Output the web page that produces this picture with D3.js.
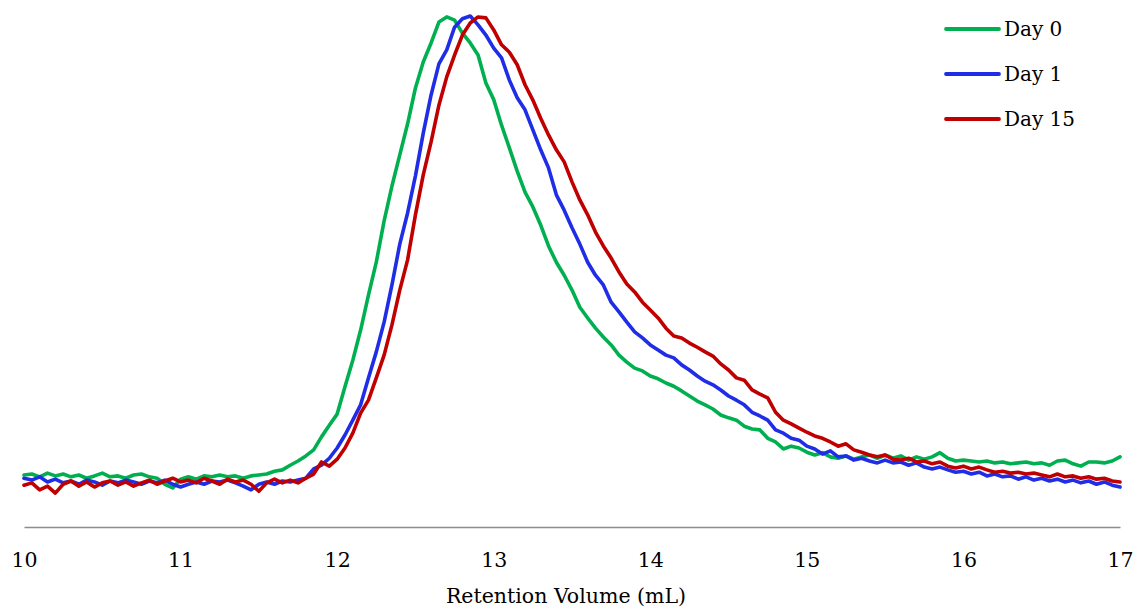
<!DOCTYPE html>
<html>
<head>
<meta charset="utf-8">
<script src="https://cdn.jsdelivr.net/npm/d3@7"></script>
<style>
  html, body { margin: 0; padding: 0; background: #ffffff; }
  svg { display: block; }
</style>
</head>
<body>
<svg id="chart" width="1136" height="608"></svg>
<script>
// Retention volume grid (mL)
const volumes = [
  10.00,10.05,10.10,10.15,10.20,10.25,10.30,10.35,10.40,10.45,
  10.50,10.55,10.60,10.65,10.70,10.75,10.80,10.85,10.90,10.95,
  11.00,11.05,11.10,11.15,11.20,11.25,11.30,11.35,11.40,11.45,
  11.50,11.55,11.60,11.65,11.70,11.75,11.80,11.85,11.90,11.95,
  12.00,12.05,12.10,12.15,12.20,12.25,12.30,12.35,12.40,12.45,
  12.50,12.55,12.60,12.65,12.70,12.75,12.80,12.85,12.90,12.95,
  13.00,13.05,13.10,13.15,13.20,13.25,13.30,13.35,13.40,13.45,
  13.50,13.55,13.60,13.65,13.70,13.75,13.80,13.85,13.90,13.95,
  14.00,14.05,14.10,14.15,14.20,14.25,14.30,14.35,14.40,14.45,
  14.50,14.55,14.60,14.65,14.70,14.75,14.80,14.85,14.90,14.95,
  15.00,15.05,15.10,15.15,15.20,15.25,15.30,15.35,15.40,15.45,
  15.50,15.55,15.60,15.65,15.70,15.75,15.80,15.85,15.90,15.95,
  16.00,16.05,16.10,16.15,16.20,16.25,16.30,16.35,16.40,16.45,
  16.50,16.55,16.60,16.65,16.70,16.75,16.80,16.85,16.90,16.95,
  17.00
];

// Normalised detector signal (%)
const day0 = [
  1.2,1.4,0.8,1.6,1.0,1.4,0.8,1.2,0.5,1.0,
  1.6,0.8,1.0,0.5,1.2,1.4,0.8,0.5,-0.8,-1.6,
  0.3,0.8,0.3,1.0,0.8,1.2,0.8,1.0,0.5,1.0,
  1.2,1.4,2.0,2.3,3.3,4.2,5.3,6.6,9.4,11.9,
  14.3,20.2,25.9,32.4,39.9,47.0,55.9,63.4,70.1,76.8,
  84.5,90.1,94.2,98.7,99.8,99.1,96.3,94.2,91.6,85.6,
  82.0,76.5,71.6,66.6,62.1,58.9,55.0,50.5,47.0,44.2,
  41.0,37.3,35.0,32.8,30.9,29.2,27.0,25.5,24.2,23.6,
  22.5,21.9,21.0,20.3,19.3,18.2,17.1,16.3,15.4,14.1,
  13.5,13.0,11.7,11.1,10.9,9.1,8.3,6.8,7.4,7.0,
  6.1,5.5,6.0,5.1,4.8,5.3,4.6,5.1,5.5,4.8,
  5.5,4.8,5.3,4.4,5.1,4.6,5.1,6.0,4.8,4.2,
  4.4,4.2,4.0,4.2,3.8,4.0,3.6,3.8,4.0,3.6,
  3.8,3.3,4.2,4.4,3.6,3.1,4.0,4.0,3.8,4.2,
  5.1
];

const day1 = [
  0.5,0.1,0.8,-0.3,0.3,-0.5,-0.1,-0.8,0.1,-0.3,
  -1.0,-0.1,-0.5,0.1,-0.3,-0.8,-0.1,-0.5,0.1,-0.8,
  -1.4,-0.8,-0.3,-0.8,-0.1,-0.3,0.1,-0.5,-1.2,-2.0,
  -0.8,-0.3,-0.8,-0.1,-0.3,0.1,0.5,2.5,3.3,4.8,
  7.0,9.8,13.0,16.3,22.1,27.7,34.1,42.1,50.9,57.6,
  65.6,74.8,83.0,89.7,92.7,97.6,99.4,100.0,98.1,95.9,
  93.1,91.0,86.2,82.4,79.8,75.5,71.2,67.3,61.5,58.2,
  54.4,50.9,47.0,44.2,42.1,38.4,36.3,34.1,32.0,30.7,
  29.2,28.1,27.0,26.4,24.9,23.8,22.5,21.4,20.6,19.5,
  18.2,17.3,16.3,14.7,13.9,13.0,10.9,10.2,9.1,8.7,
  7.4,6.8,5.7,6.4,5.1,5.3,4.4,4.8,4.2,3.8,
  4.4,3.8,4.0,3.3,3.8,2.9,2.5,2.9,2.3,1.8,
  2.0,1.4,1.8,1.0,1.4,0.8,1.0,0.3,0.8,0.1,
  0.5,-0.1,0.3,-0.3,0.1,-0.5,-0.1,-0.8,-0.3,-1.0,
  -1.4
];

const day15 = [
  -1.0,-0.5,-2.0,-1.2,-2.7,-0.8,-0.1,-1.2,-0.3,-1.4,
  -0.5,-0.1,-1.0,-0.3,-1.2,-0.5,0.1,-0.8,-0.1,0.5,
  -0.3,0.1,-0.5,0.5,-0.1,-0.8,0.3,-0.3,0.1,-0.8,
  -2.3,-0.5,0.3,-0.5,0.1,-0.5,0.5,1.4,4.0,3.1,
  4.6,7.0,10.2,14.5,17.3,22.1,27.0,33.5,41.0,47.5,
  57.2,65.8,72.9,80.8,86.9,91.6,95.9,98.5,99.8,99.6,
  97.0,93.8,92.2,89.5,85.2,81.9,78.0,74.4,71.2,68.6,
  64.3,60.4,57.2,53.5,50.5,47.9,44.9,42.3,40.6,38.4,
  36.7,35.0,32.8,31.1,30.7,29.6,28.7,27.7,26.8,25.1,
  23.8,22.1,21.6,19.5,18.6,17.8,14.7,13.0,12.2,11.3,
  10.4,9.6,9.1,8.3,7.4,7.9,6.6,6.1,5.5,5.1,
  5.5,4.6,4.4,4.8,4.0,4.2,3.6,4.0,3.1,2.7,
  3.1,2.5,2.9,2.3,1.8,2.0,1.6,1.8,1.4,1.6,
  1.2,0.8,1.4,0.8,1.0,0.5,0.8,0.3,0.5,-0.1,
  -0.3
];

const seriesNames = ["Day 0", "Day 1", "Day 15"];
const seriesColors = ["#00b050", "#1f2de6", "#c00000"];
const xTicks = [10, 11, 12, 13, 14, 15, 16, 17];
const xTitle = "Retention Volume (mL)";

const seriesValues = [day0, day1, day15];
const series = seriesNames.map((name, i) => ({
  name,
  color: seriesColors[i],
  points: volumes.map((v, j) => ({ x: v, y: seriesValues[i][j] }))
}));

const svg = d3.select("#chart");
const font = "'DejaVu Serif', 'Liberation Serif', serif";

const x = d3.scaleLinear().domain([10, 17]).range([24, 1120]);
const y = d3.scaleLinear().domain([-10, 100]).range([527, 16]);

// X axis
const axisG = svg.append("g")
  .attr("transform", `translate(0,${y(-10)})`)
  .call(d3.axisBottom(x).tickValues(xTicks).tickFormat(d3.format("d"))
    .tickSize(0).tickSizeOuter(0).tickPadding(25));
axisG.select(".domain").attr("stroke", "#8c8c8c").attr("stroke-width", 1.5);
axisG.selectAll("text")
  .attr("font-family", font)
  .attr("font-size", 20.5)
  .attr("fill", "#000");

svg.append("text")
  .attr("x", 566)
  .attr("y", 603)
  .attr("text-anchor", "middle")
  .attr("font-family", font)
  .attr("font-size", 20.5)
  .attr("fill", "#000")
  .text(xTitle);

// Lines
const line = d3.line().x(d => x(d.x)).y(d => y(d.y));
svg.append("g").selectAll("path")
  .data(series)
  .join("path")
  .attr("d", d => line(d.points))
  .attr("fill", "none")
  .attr("stroke", d => d.color)
  .attr("stroke-width", 3.6)
  .attr("stroke-linejoin", "round")
  .attr("stroke-linecap", "round");

// Legend
const legend = svg.append("g").attr("transform", "translate(946,29)");
const items = legend.selectAll("g").data(series).join("g")
  .attr("transform", (d, i) => `translate(0,${i * 45})`);
items.append("line")
  .attr("x1", 0).attr("x2", 53).attr("y1", 0).attr("y2", 0)
  .attr("stroke", d => d.color).attr("stroke-width", 3.8)
  .attr("stroke-linecap", "round");
items.append("text")
  .attr("x", 58).attr("y", 0).attr("dy", "0.35em")
  .attr("font-family", font).attr("font-size", 20).attr("fill", "#000")
  .text(d => d.name);
</script>
</body>
</html>
